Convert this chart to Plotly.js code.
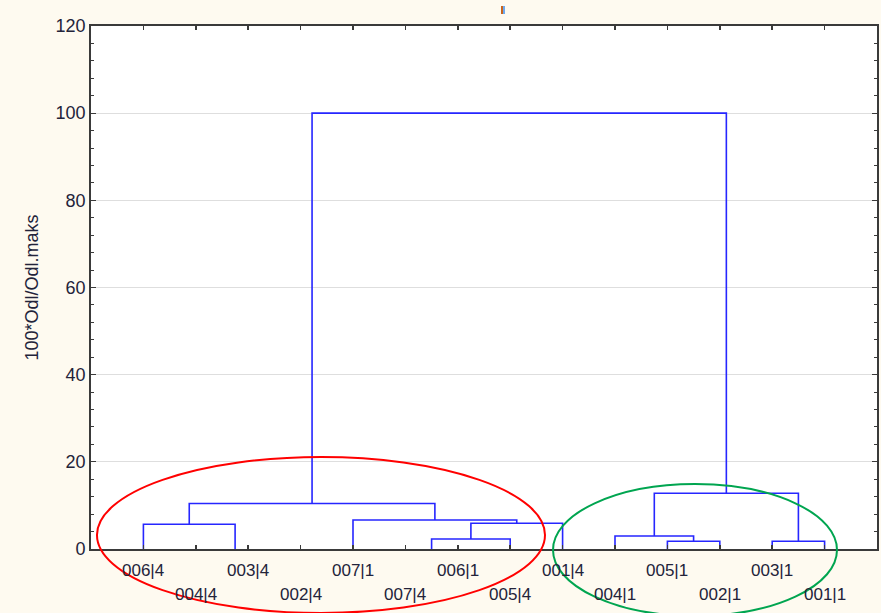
<!DOCTYPE html>
<html><head><meta charset="utf-8">
<script src="https://cdn.plot.ly/plotly-3.0.1.min.js"></script>
<style>html,body{margin:0;padding:0;background:#fefaf0;}</style>
</head><body><div id="chart" style="width:881px;height:613px;"></div>
<script>
// Leaf order along the x axis
const leafLabels = ['006|4','004|4','003|4','002|4','007|1','007|4','006|1','005|4','001|4','004|1','005|1','002|1','003|1','001|1'];
// Linkage: ids 0..13 are leaves, 14+ are clusters created by each merge in order
const mergeLeft   = [2, 1, 5, 10, 12, 16, 9, 0, 19, 4, 21, 20, 24];
const mergeRight  = [3, 14, 6, 11, 13, 7, 17, 15, 8, 22, 23, 18, 25];
const mergeHeight = [0, 0, 0, 1.77, 1.77, 2.29, 2.98, 5.67, 5.9, 6.65, 10.44, 12.78, 100];
const yTicks = [0, 20, 40, 60, 80, 100, 120];

const nodeX = leafLabels.map((_, i) => i + 1);
const nodeY = leafLabels.map(() => 0);
const xs = [], ys = [];
for (let k = 0; k < mergeHeight.length; k++) {
  const a = mergeLeft[k], b = mergeRight[k], h = mergeHeight[k];
  const xa = nodeX[a], xb = nodeX[b];
  if (h > 0) {
    xs.push(xa, xa, xb, xb, null);
    ys.push(nodeY[a], h, h, nodeY[b], null);
  }
  nodeX.push((xa + xb) / 2);
  nodeY.push(h);
}

const trace = {
  type: 'scatter', mode: 'lines', x: xs, y: ys,
  line: {color: '#2626ff', width: 1.6}, hoverinfo: 'skip', showlegend: false
};

const annotations = leafLabels.map((t, i) => ({
  x: i + 1, y: 0, xref: 'x', yref: 'y', text: t, showarrow: false,
  yanchor: 'middle', xanchor: 'center', yshift: (i % 2 === 0) ? -21 : -45,
  font: {family: 'Liberation Sans, Arial, sans-serif', size: 17, color: '#23233a'}
}));

const layout = {
  width: 881, height: 613,
  margin: {l: 91, r: 4, t: 26, b: 64},
  paper_bgcolor: '#fefaf0', plot_bgcolor: '#ffffff',
  font: {family: 'Liberation Sans, Arial, sans-serif', color: '#23233a'},
  showlegend: false,
  xaxis: {
    range: [0, 15], tickvals: leafLabels.map((_, i) => i + 1), showticklabels: false,
    ticks: 'inside', ticklen: 4, tickwidth: 1.5, tickcolor: '#3a3a3a',
    showline: true, linecolor: '#3a3a3a', linewidth: 1.8, mirror: 'ticks',
    showgrid: false, zeroline: false, fixedrange: true
  },
  yaxis: {
    range: [0, 120], tickvals: yTicks, ticktext: yTicks.map(String),
    ticks: 'inside', ticklen: 5, tickwidth: 1.2, tickcolor: '#3a3a3a',
    minor: {dtick: 4, ticks: 'inside', ticklen: 3, tickcolor: '#3a3a3a', tickwidth: 1, showgrid: false},
    showline: true, linecolor: '#3a3a3a', linewidth: 1.8, mirror: 'ticks',
    showgrid: true, gridcolor: '#dedede', gridwidth: 1, zeroline: false,
    tickfont: {size: 18, color: '#23233a'},
    title: {text: '100*Odl/Odl.maks', font: {size: 18, color: '#23233a'}, standoff: 12},
    fixedrange: true
  },
  shapes: [
    {type: 'circle', xref: 'paper', yref: 'paper', x0: 0.0076, x1: 0.5776, y0: -0.1224, y1: 0.1759,
     line: {color: '#ff0000', width: 2}},
    {type: 'circle', xref: 'paper', yref: 'paper', x0: 0.5878, x1: 0.9491, y0: -0.128, y1: 0.1243,
     line: {color: '#00a550', width: 2}},
    {type: 'rect', xref: 'paper', yref: 'paper', x0: 0.5216, x1: 0.5242, y0: 1.0229, y1: 1.0382,
     line: {width: 0}, fillcolor: '#c8641e'},
    {type: 'rect', xref: 'paper', yref: 'paper', x0: 0.5242, x1: 0.5267, y0: 1.0229, y1: 1.0382,
     line: {width: 0}, fillcolor: '#6aa8f0'}
  ],
  annotations: annotations
};

Plotly.newPlot('chart', [trace], layout, {displayModeBar: false, staticPlot: true});
</script></body></html>
